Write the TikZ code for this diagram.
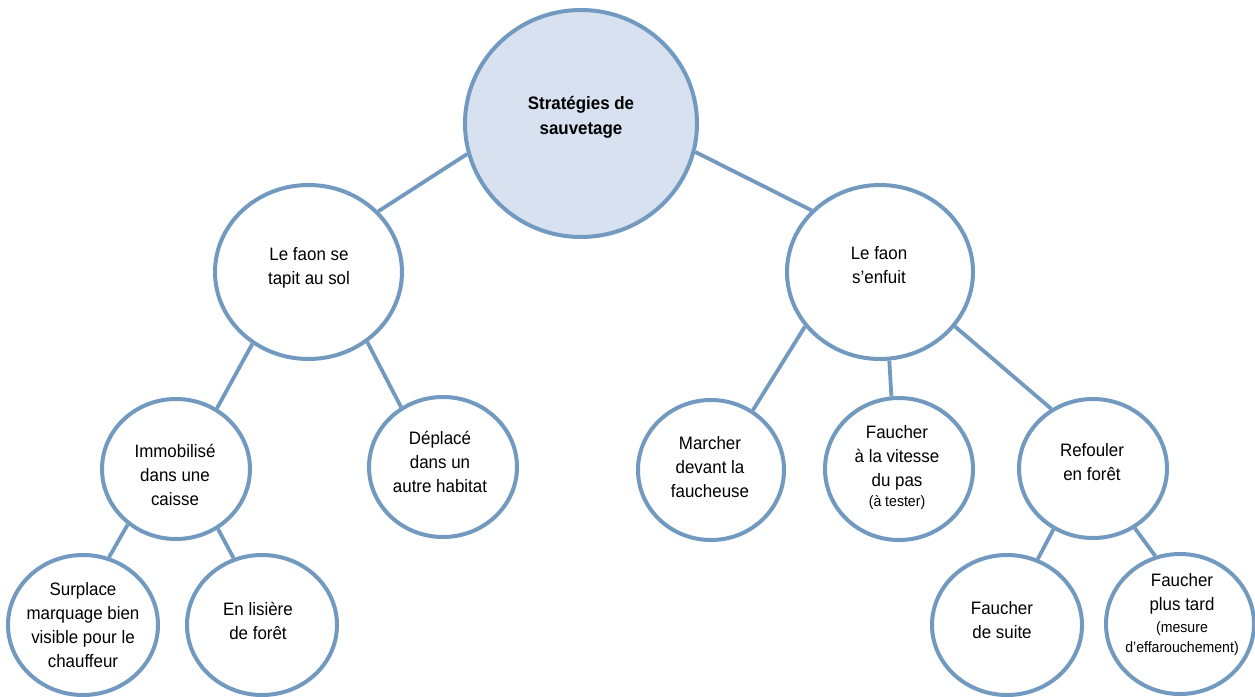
\documentclass[tikz,border=0pt]{standalone}
\usepackage{fontspec}
\setmainfont{Liberation Sans}[FakeStretch=0.94]
\usetikzlibrary{shapes.geometric}
\definecolor{edgeblue}{RGB}{114,153,191}
\definecolor{topfill}{RGB}{215,225,240}
\begin{document}
\begin{tikzpicture}[x=1pt,y=-1pt,
  bubble/.style={ellipse, draw=edgeblue, line width=4pt, fill=white, inner sep=0pt},
  txt/.style={align=center, inner sep=0pt, text=black, font=\fontsize{18}{24}\selectfont},
  bold txt/.style={txt, font=\fontsize{18}{25}\selectfont\bfseries},
  link/.style={draw=edgeblue, line width=3.8pt}]
\useasboundingbox (0,0) rectangle (1255,696);
\newcommand{\sm}[1]{{\fontsize{15}{18}\selectfont #1}}
% circles
\node[bubble, fill=topfill, minimum width=232pt, minimum height=227pt] (top) at (581,123.5) {};
\node[bubble, minimum width=187pt, minimum height=174pt] (lm) at (308.5,272) {};
\node[bubble, minimum width=186pt, minimum height=174pt] (rm) at (880,272) {};
\node[bubble, minimum width=148pt, minimum height=140pt] (imm) at (176,469) {};
\node[bubble, minimum width=148pt, minimum height=140pt] (dep) at (443,467) {};
\node[bubble, minimum width=146pt, minimum height=140pt] (mar) at (711,470) {};
\node[bubble, minimum width=148pt, minimum height=142pt] (vit) at (899,469) {};
\node[bubble, minimum width=148pt, minimum height=139pt] (ref) at (1093,468.5) {};
\node[bubble, minimum width=150pt, minimum height=140pt] (sur) at (83,625) {};
\node[bubble, minimum width=150pt, minimum height=140pt] (lis) at (262,625) {};
\node[bubble, minimum width=150pt, minimum height=140pt] (sui) at (1007,625) {};
\node[bubble, minimum width=148pt, minimum height=140pt] (tar) at (1180,624) {};
% texts
\node[bold txt] (top-t) at (581,117) {Stratégies de\\sauvetage};
\node[txt] (lm-t) at (309,268) {Le faon se\\tapit au sol};
\node[txt] (rm-t) at (879,265) {Le faon\\s’enfuit};
\node[txt] (imm-t) at (175,474.5) {Immobilisé\\dans une\\caisse};
\node[txt] (dep-t) at (440,461.5) {Déplacé\\dans un\\autre habitat};
\node[txt] (mar-t) at (710,467) {Marcher\\devant la\\faucheuse};
\node[txt] (vit-t) at (897,468) {Faucher\\à la vitesse\\du pas\\[-4pt]\sm{(à tester)}};
\node[txt] (ref-t) at (1092,462.5) {Refouler\\en forêt};
\node[txt] (sur-t) at (83,625.5) {Surplace\\marquage bien\\visible pour le\\chauffeur};
\node[txt] (lis-t) at (258,621) {En lisière\\de forêt};
\node[txt] (sui-t) at (1002,620) {Faucher\\de suite};
\node[txt] (tar-t) at (1182,615) {Faucher\\plus tard\\[-2pt]\sm{(mesure}\\[-4pt]\sm{d’effarouchement)}};
% connectors
\draw[link] (top.195.4) -- (lm.41.7);
\draw[link] (top.-14) -- (rm.138);
\draw[link] (lm.232.3) -- (imm.56.5);
\draw[link] (lm.-50.5) -- (dep.125.6);
\draw[link] (rm.216.9) -- (mar.55.7);
\draw[link] (rm.-84.4) -- (vit.96.6);
\draw[link] (rm.-36.4) -- (ref.125);
\draw[link] (imm.229.2) -- (sur.69.8);
\draw[link] (imm.-55.4) -- (lis.113.7);
\draw[link] (ref.237.8) -- (sui.65.9);
\draw[link] (ref.-55.7) -- (tar.110.5);
\end{tikzpicture}
\end{document}
